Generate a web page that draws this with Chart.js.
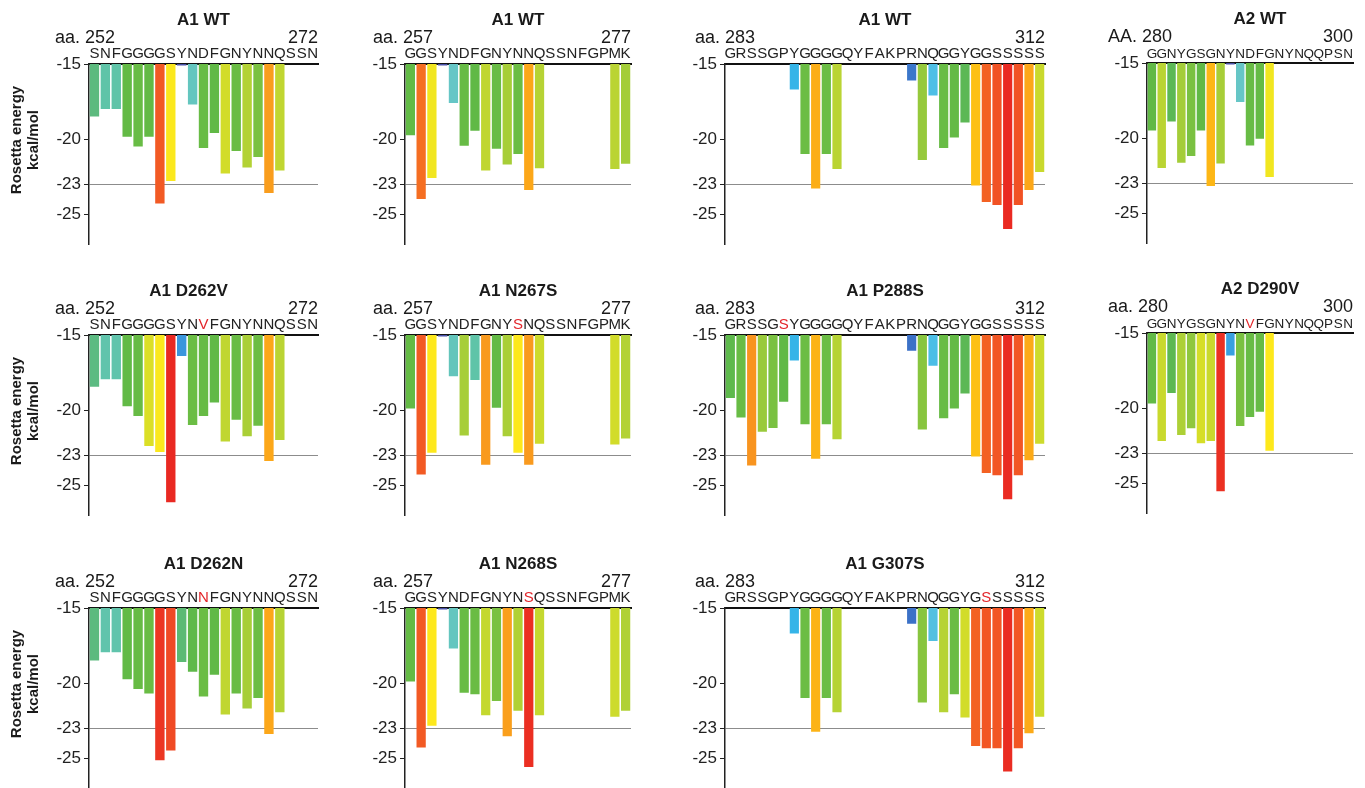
<!DOCTYPE html>
<html>
<head>
<meta charset="utf-8">
<script src="https://cdn.jsdelivr.net/npm/chart.js@4"></script>
<style>
html, body { margin: 0; padding: 0; background: #fff; overflow: hidden; }
body { width: 1365px; height: 788px; position: relative; }
canvas { position: absolute; }
</style>
</head>
<body>
<script>
// tick values on the energy axis
const yTicks = [-15, -20, -23, -25];

// residue sequences (one letter per bar slot)
const seqA1a = "SNFGGGGSYNDFGNYNNQSSN";
const seqA1b = "GGSYNDFGNYNNQSSNFGPMK";
const seqA1c = "GRSSGPYGGGGQYFAKPRNQGGYGGSSSSS";
const seqA2  = "GGNYGSGNYNDFGNYNQQPSN";
const seqD262V = "SNFGGGGSYNVFGNYNNQSSN";
const seqN267S = "GGSYNDFGNYSNQSSNFGPMK";
const seqP288S = "GRSSGSYGGGGQYFAKPRNQGGYGGSSSSS";
const seqD290V = "GGNYGSGNYNVFGNYNQQPSN";
const seqD262N = "SNFGGGGSYNNFGNYNNQSSN";
const seqN268S = "GGSYNDFGNYNSQSSNFGPMK";
const seqG307S = "GRSSGPYGGGGQYFAKPRNQGGYGSSSSSS";

// Rosetta energy (kcal/mol) per residue, null = no bar
const wtA1a = [-18.5, -18.0, -18.0, -19.85, -20.5, -19.85, -24.3, -22.8, -15.1, -17.7, -20.6, -19.6, -22.3, -20.8, -21.9, -21.2, -23.6, -22.1, null, null, null];
const wtA1b = [-19.75, -24.0, -22.6, -15.1, -17.6, -20.45, -19.45, -22.1, -20.65, -21.7, -21.0, -23.4, -21.95, null, null, null, null, null, null, -22.0, -21.65];
const wtA1c = [null, null, null, null, null, null, -16.7, -21.0, -23.3, -21.0, -22.0, null, null, null, null, null, null, -16.1, -21.4, -17.1, -20.6, -19.9, -18.9, -23.1, -24.2, -24.4, -26.0, -24.4, -23.4, -22.2];
const wtA2 = [-19.5, -22.0, -18.9, -21.65, -21.2, -19.5, -23.2, -21.7, -15.1, -17.6, -20.5, -20.05, -22.6, null, null, null, null, null, null, null, null];
const mutD262V = [-18.45, -17.95, -17.95, -19.75, -20.4, -22.4, -22.8, -26.15, -16.4, -21.0, -20.4, -19.5, -22.1, -20.65, -21.75, -21.05, -23.4, -22.0, null, null, null];
const mutN267S = [-19.9, -24.3, -22.85, -15.1, -17.75, -21.7, -18.0, -23.65, -19.85, -21.75, -22.85, -23.65, -22.25, null, null, null, null, null, null, -22.3, -21.9];
const mutP288S = [-19.2, -20.5, -23.7, -21.45, -21.2, -19.45, -16.7, -20.95, -23.25, -20.95, -21.95, null, null, null, null, null, null, -16.05, -21.3, -17.05, -20.55, -19.9, -18.9, -23.1, -24.2, -24.35, -25.95, -24.35, -23.35, -22.25];
const mutD290V = [-19.7, -22.2, -19.0, -21.8, -21.35, -22.35, -22.2, -25.55, -16.5, -21.2, -20.6, -20.25, -22.85, null, null, null, null, null, null, null, null];
const mutD262N = [-18.5, -17.95, -17.95, -19.75, -20.4, -20.7, -25.15, -24.5, -18.6, -19.25, -20.9, -19.45, -22.1, -20.7, -21.7, -21.0, -23.4, -21.95, null, null, null];
const mutN268S = [-19.9, -24.3, -22.85, -15.1, -17.7, -20.65, -20.75, -22.15, -21.2, -23.55, -21.85, -25.6, -22.15, null, null, null, null, null, null, -22.25, -21.85];
const mutG307S = [null, null, null, null, null, null, -16.7, -21.0, -23.25, -21.0, -21.95, null, null, null, null, null, null, -16.05, -21.3, -17.2, -21.95, -20.75, -22.3, -24.2, -24.35, -24.35, -25.9, -24.35, -23.35, -22.25];

// energy colour scale
const colorStops = [
  [-15.0, '#4a4ea6'], [-16.0, '#3b6cc4'], [-16.4, '#3a96dc'], [-16.7, '#35b4e8'],
  [-17.1, '#4ebfe6'], [-17.6, '#66c6c6'], [-18.0, '#5fc4a8'], [-18.5, '#5cba7e'],
  [-18.9, '#5cb855'], [-19.4, '#60b946'], [-21.1, '#6cbd44'], [-21.4, '#96c93c'],
  [-21.8, '#add036'], [-22.1, '#c0d631'], [-22.35, '#d6de28'], [-22.65, '#f6e71e'],
  [-22.9, '#ffe81c'], [-23.1, '#fdc014'], [-23.35, '#fcaa18'], [-23.65, '#f99a1e'],
  [-24.0, '#f56e22'], [-24.3, '#f25a24'], [-24.5, '#f04a24'], [-25.2, '#ec3422'],
  [-26.2, '#e92822']
];

function rgb(h) {
  return [parseInt(h.slice(1, 3), 16), parseInt(h.slice(3, 5), 16), parseInt(h.slice(5, 7), 16)];
}

function colorFor(v) {
  if (v >= colorStops[0][0]) return colorStops[0][1];
  for (let i = 0; i < colorStops.length - 1; i++) {
    const a = colorStops[i], b = colorStops[i + 1];
    if (v >= b[0]) {
      const t = (a[0] - v) / (a[0] - b[0]);
      const ca = rgb(a[1]), cb = rgb(b[1]);
      const c = ca.map((x, k) => Math.round(x + (cb[k] - x) * t));
      return 'rgb(' + c.join(',') + ')';
    }
  }
  return colorStops[colorStops.length - 1][1];
}

// layout: columns and rows of the panel grid
const cols = [
  { left: 89, width: 229, yw: 89, aaDx: -34, fs: 15 },
  { left: 405, width: 226, yw: 45, aaDx: -32, fs: 15 },
  { left: 725, width: 320, yw: 45, aaDx: -30, fs: 15 },
  { left: 1147, width: 206, yw: 45, aaDx: -39, fs: 13.5 }
];
const rows = [64, 335, 608];
const TOPH = 62;

const panels = [
  { title: 'A1 WT', pre: 'aa.', start: 252, end: 272, seq: seqA1a, vals: wtA1a, mut: -1, c: 0, r: 0 },
  { title: 'A1 WT', pre: 'aa.', start: 257, end: 277, seq: seqA1b, vals: wtA1b, mut: -1, c: 1, r: 0 },
  { title: 'A1 WT', pre: 'aa.', start: 283, end: 312, seq: seqA1c, vals: wtA1c, mut: -1, c: 2, r: 0 },
  { title: 'A2 WT', pre: 'AA.', start: 280, end: 300, seq: seqA2, vals: wtA2, mut: -1, c: 3, r: 0, dy: -1, dx: 10 },
  { title: 'A1 D262V', pre: 'aa.', start: 252, end: 272, seq: seqD262V, vals: mutD262V, mut: 10, c: 0, r: 1, dx: -15 },
  { title: 'A1 N267S', pre: 'aa.', start: 257, end: 277, seq: seqN267S, vals: mutN267S, mut: 10, c: 1, r: 1 },
  { title: 'A1 P288S', pre: 'aa.', start: 283, end: 312, seq: seqP288S, vals: mutP288S, mut: 5, c: 2, r: 1 },
  { title: 'A2 D290V', pre: 'aa.', start: 280, end: 300, seq: seqD290V, vals: mutD290V, mut: 10, c: 3, r: 1, dy: -2, dx: 10 },
  { title: 'A1 D262N', pre: 'aa.', start: 252, end: 272, seq: seqD262N, vals: mutD262N, mut: 10, c: 0, r: 2 },
  { title: 'A1 N268S', pre: 'aa.', start: 257, end: 277, seq: seqN268S, vals: mutN268S, mut: 11, c: 1, r: 2 },
  { title: 'A1 G307S', pre: 'aa.', start: 283, end: 312, seq: seqG307S, vals: mutG307S, mut: 24, c: 2, r: 2 }
];

const FONT = '"Liberation Sans", Arial, Helvetica, sans-serif';
Chart.defaults.font.family = FONT;

// title, residue range and axis title drawn around the plot area
const panelText = {
  id: 'panelText',
  afterDraw(chart, args, o) {
    const { ctx, chartArea: a } = chart;
    ctx.save();
    ctx.fillStyle = '#1a1a1a';
    ctx.font = 'bold 17px ' + FONT;
    ctx.textAlign = 'center';
    ctx.textBaseline = 'middle';
    ctx.fillText(o.title, (a.left + a.right) / 2 + o.dx, a.top - 44);
    ctx.font = '18px ' + FONT;
    ctx.textBaseline = 'alphabetic';
    ctx.textAlign = 'left';
    ctx.fillText(o.pre + ' ' + o.start, a.left + o.aaDx, a.top - 21);
    ctx.textAlign = 'right';
    ctx.fillText(String(o.end), a.right, a.top - 21);
    if (o.yTitle) {
      ctx.font = 'bold 15px ' + FONT;
      ctx.textAlign = 'center';
      ctx.textBaseline = 'middle';
      const cy = a.top + 76;
      [[17, 'Rosetta energy'], [34, 'kcal/mol']].forEach(([x, t]) => {
        ctx.save();
        ctx.translate(x, cy);
        ctx.rotate(-Math.PI / 2);
        ctx.fillText(t, 0, 0);
        ctx.restore();
      });
    }
    ctx.restore();
  }
};

panels.forEach(p => {
  const col = cols[p.c];
  const top = rows[p.r] + (p.dy || 0);
  const cv = document.createElement('canvas');
  cv.width = col.yw + col.width + 6;
  cv.height = TOPH + 180 + 2;
  cv.style.left = (col.left - col.yw) + 'px';
  cv.style.top = (top - TOPH) + 'px';
  document.body.appendChild(cv);

  new Chart(cv, {
    type: 'bar',
    data: {
      labels: p.seq.split(''),
      datasets: [{
        data: p.vals.map(v => v == null ? null : [-15, v]),
        backgroundColor: p.vals.map(v => v == null ? 'rgba(0,0,0,0)' : colorFor(v)),
        borderWidth: 0,
        barPercentage: 0.86,
        categoryPercentage: 1
      }]
    },
    options: {
      responsive: false,
      animation: false,
      layout: { padding: { left: 0, top: 0, right: 6, bottom: 2 } },
      plugins: {
        legend: { display: false },
        tooltip: { enabled: false },
        panelText: {
          title: p.title, pre: p.pre, start: p.start, end: p.end,
          dx: p.dx || 0, aaDx: col.aaDx, yTitle: p.c === 0
        }
      },
      scales: {
        x: {
          position: 'top',
          offset: true,
          z: 1,
          afterFit: s => {
            s.height = TOPH;
            s.paddingLeft = 0; s.paddingRight = 0;
          },
          grid: { display: false, drawTicks: false },
          border: { color: '#111', width: 2 },
          ticks: {
            autoSkip: false, maxRotation: 0, minRotation: 0, padding: 1,
            font: { size: col.fs },
            color: c => c.index === p.mut ? '#e3262b' : '#222'
          }
        },
        y: {
          min: -27,
          max: -15,
          afterBuildTicks: s => { s.ticks = yTicks.map(v => ({ value: v })); },
          afterFit: s => {
            s.width = col.yw;
            s.paddingTop = 0; s.paddingBottom = 0;
          },
          grid: {
            color: c => (c.tick && c.tick.value === -23) ? '#8c8c8c' : 'rgba(0,0,0,0)',
            tickColor: '#222',
            tickLength: 5,
            lineWidth: 1
          },
          border: { color: '#222', width: 1.5 },
          ticks: { font: { size: 17 }, color: '#222', padding: 3 }
        }
      }
    },
    plugins: [panelText]
  });
});
</script>
</body>
</html>
